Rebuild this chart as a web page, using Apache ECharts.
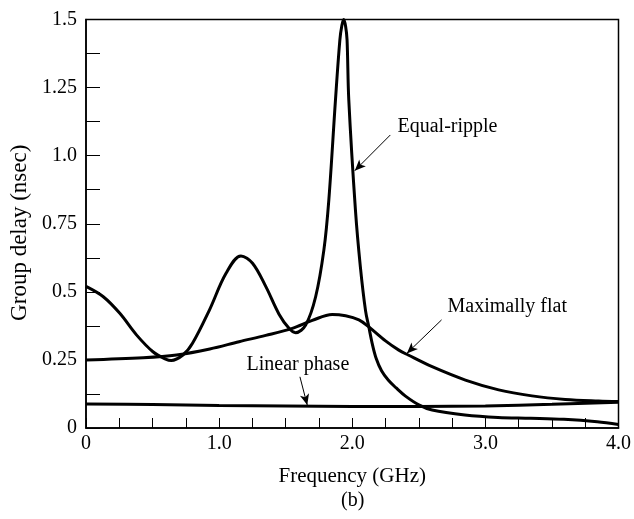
<!DOCTYPE html>
<html>
<head>
<meta charset="utf-8">
<script src="https://cdn.jsdelivr.net/npm/echarts@6/dist/echarts.min.js"></script>
<style>
  html, body { margin: 0; padding: 0; background: #fff; }
  #chart { width: 634px; height: 519px; }
</style>
</head>
<body>
<div id="chart"></div>
<script>
// Group delay vs frequency for three filter responses, panel (b).
var equalRipple = [
  [0, 0.52], [0.13, 0.482], [0.254, 0.421], [0.379, 0.342], [0.503, 0.28], [0.603, 0.252],
  [0.64, 0.248], [0.728, 0.268], [0.8, 0.311], [0.927, 0.433], [1.052, 0.568], [1.164, 0.632],
  [1.251, 0.605], [1.351, 0.519], [1.45, 0.418], [1.525, 0.366], [1.575, 0.35], [1.65, 0.378],
  [1.725, 0.482], [1.787, 0.654], [1.824, 0.837], [1.874, 1.205], [1.907, 1.425], [1.922, 1.478],
  [1.936, 1.5], [1.95, 1.475], [1.961, 1.425], [1.974, 1.205], [2.024, 0.8], [2.061, 0.592],
  [2.1, 0.43], [2.125, 0.37], [2.15, 0.31], [2.18, 0.255], [2.22, 0.21], [2.27, 0.176],
  [2.33, 0.147], [2.4, 0.117], [2.5, 0.085], [2.6, 0.066], [2.846, 0.048], [3.095, 0.039],
  [3.34, 0.036], [3.59, 0.032], [3.84, 0.023], [4.0, 0.013]
];
var maxFlat = [
  [0, 0.25], [0.43, 0.258], [0.68, 0.268], [0.93, 0.29], [1.15, 0.317], [1.35, 0.34],
  [1.55, 0.366], [1.7, 0.395], [1.85, 0.417], [1.95, 0.412], [2.05, 0.397], [2.12, 0.373],
  [2.25, 0.32], [2.35, 0.286], [2.42, 0.268], [2.6, 0.225], [2.85, 0.176], [3.1, 0.14],
  [3.35, 0.118], [3.6, 0.105], [3.85, 0.099], [4.0, 0.097]
];
var linearPhase = [
  [0, 0.088], [0.5, 0.086], [1.0, 0.083], [1.5, 0.081], [2.0, 0.079], [2.5, 0.079],
  [3.0, 0.081], [3.5, 0.087], [4.0, 0.095]
];

var xLabels = { 0: "0", 1: "1.0", 2: "2.0", 3: "3.0", 4: "4.0" };
var yLabels = { 0: "0", 0.25: "0.25", 0.5: "0.5", 0.75: "0.75", 1: "1.0", 1.25: "1.25", 1.5: "1.5" };

// annotation text [label, x, y] and arrows [from, to] in data units
var notes = [["Equal-ripple", 2.34, 1.105], ["Maximally flat", 2.716, 0.445], ["Linear phase", 1.206, 0.231]];
var arrows = [
  [[2.286, 1.076], [2.019, 0.945]],
  [[2.671, 0.397], [2.41, 0.274]],
  [[1.607, 0.188], [1.662, 0.084]]
];

var FONT = "Liberation Serif";
var c = echarts.init(document.getElementById("chart"));

function curve(data, extra) {
  var s = {
    type: "line", data: data, smooth: 0.35, showSymbol: false, silent: true,
    lineStyle: { color: "#000", width: 3 }, z: 3
  };
  for (var k in extra) s[k] = extra[k];
  return s;
}

c.setOption({
  animation: false,
  backgroundColor: "#fff",
  grid: { left: 86, right: 13, top: 19.5, bottom: 91, show: true, borderColor: "#000", borderWidth: 1.5 },
  xAxis: {
    type: "value", min: 0, max: 4, interval: 0.25,
    name: "Frequency (GHz)", nameLocation: "middle", nameGap: 38,
    nameTextStyle: { fontFamily: FONT, fontSize: 21, color: "#000" },
    axisLine: { lineStyle: { color: "#000", width: 1.5 } },
    axisTick: { inside: true, length: 10, lineStyle: { color: "#000", width: 1 } },
    axisLabel: {
      fontFamily: FONT, fontSize: 20, color: "#000", margin: 6, showMaxLabel: true,
      formatter: function (v) { var r = Math.round(v * 100) / 100; return xLabels[r] != null ? xLabels[r] : ""; }
    },
    splitLine: { show: false }
  },
  yAxis: {
    type: "value", min: 0, max: 1.5, interval: 0.125,
    name: "Group delay (nsec)", nameLocation: "middle", nameGap: 54,
    nameTextStyle: { fontFamily: FONT, fontSize: 23, color: "#000", padding: [0, 18, 0, 0] },
    axisLine: { lineStyle: { color: "#000", width: 1.5 } },
    axisTick: { inside: true, length: 14, lineStyle: { color: "#000", width: 1 } },
    axisLabel: {
      fontFamily: FONT, fontSize: 20, color: "#000", margin: 9,
      formatter: function (v) { var r = Math.round(v * 1000) / 1000; return yLabels[r] != null ? yLabels[r] : ""; }
    },
    splitLine: { show: false }
  },
  graphic: [{
    type: "text", left: 341, top: 491,
    style: { text: "(b)", fontFamily: FONT, fontSize: 20, fill: "#000" }
  }],
  series: [
    curve(equalRipple, {
      markLine: {
        silent: true, symbol: ["none", "arrow"], symbolSize: [7, 11],
        lineStyle: { color: "#000", width: 1, type: "solid" }, label: { show: false },
        data: arrows.map(function (a) { return [{ coord: a[0] }, { coord: a[1] }]; })
      },
      markPoint: {
        silent: true, symbol: "circle", symbolSize: 0,
        label: { show: true, position: "right", distance: 0, fontFamily: FONT, fontSize: 20, color: "#000",
          formatter: function (p) { return p.name; } },
        data: notes.map(function (n) { return { name: n[0], coord: [n[1], n[2]] }; })
      }
    }),
    curve(maxFlat, {}),
    curve(linearPhase, {})
  ]
});
</script>
</body>
</html>
